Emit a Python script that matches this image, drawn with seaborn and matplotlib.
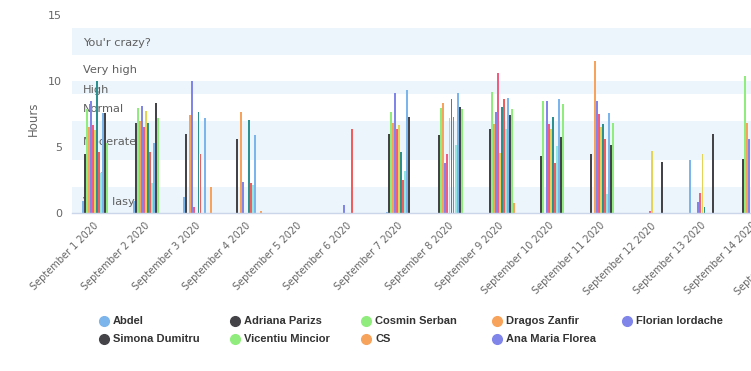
#!/usr/bin/env python3
"""
    Hours logged per person per day, grouped columns over "how busy" bands
"""
import numpy as np
import pandas as pd
import matplotlib
matplotlib.use("Agg")
import matplotlib.pyplot as plt
import seaborn as sns
from matplotlib.lines import Line2D

days = [f"September {d} 2020" for d in range(1, 16)]

# series order matters: it drives the colour cycle and the slot in each group
abdel = [0.9, 0.9, 1.2, 0, 0, 0, 0.1, 0, 0, 0, 0, 0, 4.0, 0, 0]
adriana = [4.5, 6.8, 6.0, 5.6, 0, 0, 6.0, 5.9, 6.35, 4.3, 4.5, 0, 0, 4.1, 0]
cosmin = [7.9, 7.95, 0, 0, 0, 0, 7.65, 7.95, 9.2, 8.5, 0, 0, 0, 10.4, 0]
dragos = [6.5, 7.0, 7.4, 7.65, 0, 0, 6.8, 8.3, 6.75, 0, 11.5, 0, 0, 6.8, 0]
florian = [8.5, 8.1, 10.0, 2.35, 0, 0.6, 9.1, 3.8, 7.65, 8.5, 8.5, 0, 0.85, 5.6, 0]
hidden_1 = [6.7, 6.5, 0.45, 0, 0, 0, 6.4, 4.5, 10.6, 6.75, 7.5, 0.15, 1.5, 0, 0]
hidden_2 = [6.3, 7.7, 0, 0, 0, 0, 6.7, 7.2, 4.55, 6.35, 6.5, 4.7, 4.45, 0, 0]
hidden_3 = [10.0, 6.8, 7.65, 7.05, 0, 0, 4.6, 8.6, 8.0, 7.3, 6.75, 0, 0.45, 0, 0]
hidden_4 = [4.6, 4.6, 4.5, 2.3, 0, 6.35, 2.5, 7.3, 8.6, 3.8, 5.6, 0, 0, 0, 0]
hidden_5 = [3.0, 2.3, 0, 2.1, 0, 0, 3.2, 5.15, 6.35, 5.1, 1.45, 0, 0, 0, 0]
hidden_6 = [7.6, 5.3, 7.2, 5.9, 0, 0, 9.3, 9.1, 8.7, 8.6, 7.55, 0, 0, 0, 0]
simona = [7.6, 8.3, 0, 0, 0, 0, 7.3, 8.0, 7.4, 5.75, 5.15, 3.9, 6.0, 0, 0]
vicentiu = [5.3, 7.2, 0, 0, 0, 0, 0, 7.9, 7.9, 8.25, 6.8, 0, 0, 0, 0]
cs = [0, 0, 2.0, 0.15, 0, 0, 0, 0, 0.75, 0, 0, 0, 0, 0, 0]
ana_maria = [0] * 15

people = ["Abdel", "Adriana Parizs", "Cosmin Serban", "Dragos Zanfir", "Florian Iordache",
          "Series 6", "Series 7", "Series 8", "Series 9", "Series 10", "Series 11",
          "Simona Dumitru", "Vicentiu Mincior", "CS", "Ana Maria Florea"]
hours = [abdel, adriana, cosmin, dragos, florian, hidden_1, hidden_2, hidden_3, hidden_4,
         hidden_5, hidden_6, simona, vicentiu, cs, ana_maria]
in_legend = [True] * 5 + [False] * 6 + [True] * 4

band_from = [0, 2, 4, 7, 9, 10, 12]
band_to = [2, 4, 7, 9, 10, 12, 14]
band_labels = ["Very lasy", "Lasy", "Moderate", "Normal", "High", "Very high", "You'r crazy?"]

hc_colors = ["#7cb5ec", "#434348", "#90ed7d", "#f7a35c", "#8085e9",
             "#f15c80", "#e4d354", "#2b908f", "#f45b5b", "#91e8e1"]
colors = [hc_colors[i % 10] for i in range(len(people))]

frame = pd.DataFrame([(d, p, h) for p, vals in zip(people, hours) for d, h in zip(days, vals)],
                     columns=["day", "person", "hours"])

W, H = 751, 371
sns.set_style("white")
plt.rcParams["font.family"] = ["DejaVu Sans"]
fig = plt.figure(figsize=(W / 100, H / 100), dpi=100)

# plot area runs past the right edge, like the cropped original
left_px, top_px, bottom_px, step_px = 72, 15, 213, 50.6
ax = fig.add_axes([left_px / W, 1 - bottom_px / H,
                   (15 * step_px) / W, (bottom_px - top_px) / H])

for lo, hi, lab, k in zip(band_from, band_to, band_labels, range(len(band_labels))):
    if k % 2 == 0:
        ax.axhspan(lo, hi, color="#ecf5fb", lw=0, zorder=0)
    ax.text(-0.28, (lo + hi) / 2 - 0.15, lab, color="#606060", fontsize=8.2,
            ha="left", va="center", zorder=1)

sns.barplot(data=frame, x="day", y="hours", hue="person", hue_order=people,
            palette=colors, width=0.6, gap=0.05, saturation=1, errorbar=None,
            linewidth=0, legend=False, ax=ax, zorder=2)

ax.set_xlim(-0.5, 14.5)
ax.set_ylim(0, 15)
ax.set_yticks([0, 5, 10, 15])
ax.set_xlabel("")
ax.set_ylabel("")
ax.tick_params(axis="y", length=0, pad=7, labelcolor="#666666", labelsize=8)
ax.tick_params(axis="x", length=0, pad=8, labelcolor="#666666", labelsize=7)
for lbl in ax.get_xticklabels():
    lbl.set_rotation(45)
    lbl.set_ha("right")
    lbl.set_va("center")
    lbl.set_rotation_mode("anchor")
for side in ["top", "right", "left"]:
    ax.spines[side].set_visible(False)
ax.spines["bottom"].set_color("#ccd6eb")
ax.spines["bottom"].set_linewidth(1)

# overlay in pixel units for the axis title and legend
lay = fig.add_axes([0, 0, 1, 1], zorder=5)
lay.set_xlim(0, W)
lay.set_ylim(H, 0)
lay.axis("off")
lay.text(33, 119, "Hours", rotation=90, ha="center", va="center", color="#666666", fontsize=8.5)

legend_names = [p for p, show in zip(people, in_legend) if show]
legend_colors = [c for c, show in zip(colors, in_legend) if show]
col_x = [104, 235, 366, 497, 627]
row_y = [321, 339]
for i, (name, col) in enumerate(zip(legend_names, legend_colors)):
    x, y = col_x[i % 5], row_y[i // 5]
    lay.add_line(Line2D([x], [y], marker="o", markersize=7, color=col, lw=0))
    lay.text(x + 9, y, name, ha="left", va="center", color="#333333", fontsize=8,
             fontweight="bold", family=["Liberation Sans", "DejaVu Sans"])

fig.savefig("out.png", dpi=100)
